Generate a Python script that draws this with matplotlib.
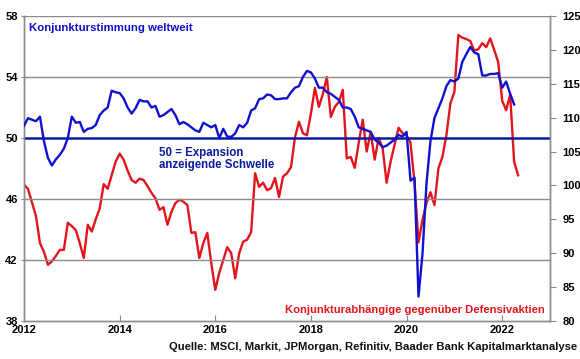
import matplotlib
matplotlib.use("Agg")
import matplotlib.pyplot as plt
import numpy as np
import pandas as pd

# Global manufacturing PMI (left axis), monthly Jan 2012 - Apr 2022
pmi = [
    50.8, 51.3, 51.2, 51.1, 51.4, 49.8, 48.7, 48.2, 48.6, 48.9, 49.3, 50.0,   # 2012
    51.4, 51.0, 51.05, 50.4, 50.6, 50.65, 50.85, 51.5, 51.8, 52.0, 53.1, 53.0,  # 2013
    52.95, 52.6, 52.0, 51.6, 51.95, 52.5, 52.4, 52.4, 52.0, 52.1, 51.4, 51.5,  # 2014
    51.7, 51.9, 51.5, 50.9, 51.05, 50.9, 50.7, 50.5, 50.4, 51.0, 50.85, 50.7,  # 2015
    50.85, 50.0, 50.6, 50.1, 50.07, 50.3, 50.85, 50.7, 51.0, 51.8, 51.95, 52.55,  # 2016
    52.6, 52.85, 52.8, 52.55, 52.55, 52.6, 52.6, 53.0, 53.3, 53.4, 54.0, 54.4,  # 2017
    54.3, 53.9, 53.3, 53.3, 53.0, 52.9, 52.7, 52.5, 52.0, 52.0, 51.9, 51.4,  # 2018
    50.7, 50.6, 50.5, 50.4, 49.9, 49.7, 49.4, 49.5, 49.7, 49.9, 50.2, 50.1,  # 2019
    50.4, 47.2, 47.4, 39.6, 42.4, 47.0, 49.8, 51.3, 51.95, 52.6, 53.4, 53.8,  # 2020
    53.7, 53.9, 55.0, 55.5, 55.97, 55.6, 55.5, 54.1, 54.1, 54.2, 54.2, 54.25,  # 2021
    53.3, 53.7, 52.9, 52.2,  # 2022
]

# Cyclicals vs defensives (right axis), monthly Jan 2012 - May 2022
ratio = [
    100.1, 99.5, 97.5, 95.5, 91.5, 90.2, 88.3, 88.8, 89.6, 90.5, 90.5, 94.5,  # 2012
    94.0, 93.4, 91.5, 89.3, 94.2, 93.2, 95.0, 96.6, 100.2, 99.5, 101.5, 103.5,  # 2013
    104.7, 103.8, 102.2, 100.8, 100.4, 101.0, 100.8, 99.9, 98.9, 98.1, 96.4, 96.8,  # 2014
    94.2, 96.1, 97.4, 97.9, 97.6, 97.1, 93.0, 93.1, 89.3, 91.5, 93.0, 88.5,  # 2015
    84.6, 87.1, 89.0, 90.9, 90.0, 86.3, 90.0, 91.7, 92.0, 93.1, 101.8, 99.8,  # 2016
    100.4, 99.3, 99.6, 101.1, 98.3, 101.3, 101.8, 102.7, 107.1, 109.4, 107.7, 107.4,  # 2017
    110.6, 114.4, 111.6, 113.5, 116.0, 110.1, 111.6, 112.3, 114.1, 104.0, 104.2, 102.6,  # 2018
    106.3, 109.7, 105.0, 107.9, 103.8, 107.0, 105.5, 100.4, 103.5, 106.0, 108.5, 107.7,  # 2019
    107.4, 106.3, 100.4, 91.6, 94.9, 97.4, 99.0, 97.1, 102.5, 104.2, 107.4, 112.1,  # 2020
    113.8, 122.2, 121.8, 121.6, 121.3, 119.9, 120.1, 121.0, 120.4, 121.7, 120.0, 118.2,  # 2021
    112.5, 111.1, 113.4, 103.5, 101.5,  # 2022
]

left_ticks = [38, 42, 46, 50, 54, 58]
right_ticks = [80, 85, 90, 95, 100, 105, 110, 115, 120, 125]
year_ticks = [2012, 2014, 2016, 2018, 2020, 2022]

pmi_dates = pd.date_range("2012-01-01", periods=len(pmi), freq="MS")
ratio_dates = pd.date_range("2012-01-01", periods=len(ratio), freq="MS")

def frac_year(d):
    return d.year + (d.month - 1) / 12.0

x_pmi = np.array([frac_year(d) for d in pmi_dates])
x_ratio = np.array([frac_year(d) for d in ratio_dates])

plt.rcParams['font.family'] = ['Liberation Sans', 'DejaVu Sans']

BLUE = '#1010d0'
DARKBLUE = '#0a1aa0'
RED = '#e3141c'
GRID = '#8c8c8c'

fig = plt.figure(figsize=(5.8, 3.59), dpi=100)
ax = fig.add_axes([24/580, 1-321/359, (550-24)/580, (321-16)/359])
ax2 = ax.twinx()

ax.set_xlim(2012, 2023)
ax.set_ylim(38, 58)
ax2.set_ylim(80, 125)

for v in [42, 46, 54, 58]:
    ax.axhline(v, color=GRID, lw=1.0, zorder=1)
ax.axhline(50, color=DARKBLUE, lw=1.8, zorder=2)

ax2.plot(x_ratio, ratio, color=RED, lw=1.7, zorder=3)
ax.plot(x_pmi, pmi, color=BLUE, lw=1.7, zorder=4)
ax.set_zorder(ax2.get_zorder() + 1)
ax.patch.set_visible(False)

for a in (ax, ax2):
    for s in a.spines.values():
        s.set_color(GRID)
        s.set_linewidth(1.0)
ax.spines['top'].set_visible(False)
ax2.spines['top'].set_visible(False)

ax.set_yticks(left_ticks)
ax.set_yticklabels([str(t) for t in left_ticks], fontweight='bold', fontsize=8)
ax.tick_params(axis='y', direction='inout', length=5, color=GRID, pad=2)
ax2.set_yticks(right_ticks)
ax2.set_yticklabels([str(t) for t in right_ticks], fontweight='bold', fontsize=8)
ax2.tick_params(axis='y', direction='out', length=4, color=GRID, pad=5)
ax.set_xticks(year_ticks)
ax.set_xticklabels([str(t) for t in year_ticks], fontweight='bold', fontsize=8)
ax.tick_params(axis='x', direction='in', length=4, color=GRID, pad=3)

ax.text(2012.1, 57.2, "Konjunkturstimmung weltweit", color=BLUE, fontsize=8.2,
        fontweight='bold', ha='left', va='center')
ax.text(2014.83, 49.4, "50 = Expansion\nanzeigende Schwelle", color=DARKBLUE, fontsize=8.3,
        fontweight='bold', ha='left', va='top', linespacing=1.0)
ax.text(2022.9, 38.75, "Konjunkturabhängige gegenüber Defensivaktien", color=RED, fontsize=8.1,
        fontweight='bold', ha='right', va='center')
fig.text(577/580, 1-347/359, "Quelle: MSCI, Markit, JPMorgan, Refinitiv, Baader Bank Kapitalmarktanalyse",
         color='#111111', fontsize=8.1, fontweight='bold', ha='right', va='center')

fig.savefig("out.png", dpi=100)
